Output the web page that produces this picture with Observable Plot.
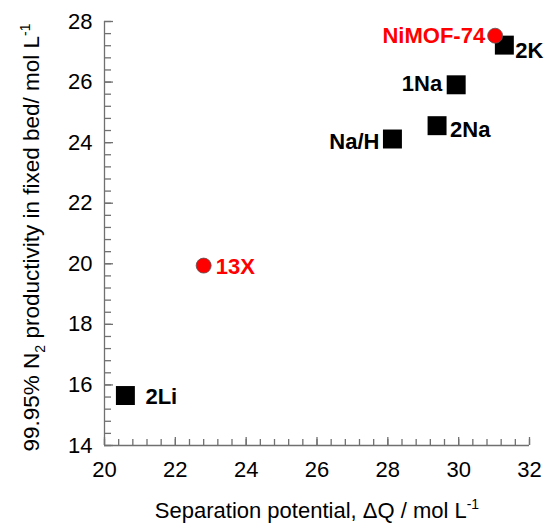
<!DOCTYPE html>
<html>
<head>
<meta charset="utf-8">
<script src="https://cdn.jsdelivr.net/npm/d3@7"></script>
<script src="https://cdn.jsdelivr.net/npm/@observablehq/plot@0.6"></script>
<style>
  html, body { margin: 0; padding: 0; background: #fff; }
  #chart svg { display: block; }
</style>
</head>
<body>
<div id="chart"></div>
<script>
// ---- data ----
const materials = ["NiMOF-74", "2K", "1Na", "2Na", "Na/H", "13X", "2Li"];
const separationPotential = [31.03, 31.29, 29.93, 29.39, 28.13, 22.80, 20.59];
const productivity = [27.53, 27.22, 25.91, 24.56, 24.12, 19.94, 15.65];
const isReference = [true, false, false, false, false, true, false];

const xTickValues = [20, 22, 24, 26, 28, 30, 32];
const yTickValues = [14, 16, 18, 20, 22, 24, 26, 28];

const xTitle = "Separation potential, ΔQ / mol L";
const yTitle = "99.95% N₂ productivity in fixed bed/ mol L";

// ---- build ----
const W = 545, H = 532;
const mL = 104, mR = 16, mT = 21, mB = 87;
const frameW = W - mL - mR, frameH = H - mT - mB;
const axisGrey = "#707070";
const red = "#ff0000";
const idx = d3.range(materials.length);
const squares = idx.filter(i => !isReference[i]);
const circles = idx.filter(i => isReference[i]);
const X = i => separationPotential[i];
const Y = i => productivity[i];

const xMinor = d3.range(0, 31).map(k => 20 + k * 0.4);
const yMinor = d3.range(0, 36).map(k => 14 + k * 0.4);

// label placement (style only)
const labelStyle = {
  "NiMOF-74": {anchor: "end", dx: -10, dy: 0, color: red},
  "2K": {anchor: "start", dx: 11, dy: 6, color: "#000"},
  "1Na": {anchor: "end", dx: -14, dy: -1, color: "#000"},
  "2Na": {anchor: "start", dx: 13, dy: 4, color: "#000"},
  "Na/H": {anchor: "end", dx: -13, dy: 3, color: "#000"},
  "13X": {anchor: "start", dx: 12, dy: 1, color: red},
  "2Li": {anchor: "start", dx: 20, dy: 1, color: "#000"}
};

const labelMarks = idx.map(i => {
  const s = labelStyle[materials[i]];
  return Plot.text([i], {
    x: X, y: Y, text: j => materials[j],
    textAnchor: s.anchor, dx: s.dx, dy: s.dy,
    fill: s.color, fontWeight: "bold", fontSize: 22
  });
});

// inward ticks (pixel lengths)
const inX = (ticks, len) => Plot.ruleX(ticks, {x: d => d, y1: 14, y2: 14, insetTop: -len, stroke: axisGrey, strokeWidth: 1.3});
const inY = (ticks, len) => Plot.tickY(ticks, {y: d => d, insetRight: frameW - len, stroke: axisGrey, strokeWidth: 1.3});

const plot = Plot.plot({
  width: W,
  height: H,
  marginLeft: mL,
  marginRight: mR,
  marginTop: mT,
  marginBottom: mB,
  style: {fontFamily: "Arial, 'Liberation Sans', sans-serif", fontSize: "22px", color: "#000", background: "#fff", overflow: "visible"},
  x: {domain: [20, 32]},
  y: {domain: [14, 28]},
  marks: [
    inX(xMinor, 6),
    inX(xTickValues, 8),
    Plot.axisX(xTickValues, {tickSize: 0, tickPadding: 16, fill: "#000", fontSize: 22, label: null}),
    inY(yMinor, 7),
    inY(yTickValues, 9),
    Plot.axisY(yTickValues, {tickSize: 0, tickPadding: 12, fill: "#000", fontSize: 22, label: null}),
    Plot.ruleX([20], {stroke: axisGrey, strokeWidth: 1.3}),
    Plot.ruleY([14], {stroke: axisGrey, strokeWidth: 1.3}),
    Plot.dot(squares, {x: X, y: Y, symbol: "square", r: 10.7, fill: "#000"}),
    Plot.dot(circles, {x: X, y: Y, r: 7.5, fill: red, stroke: "#555", strokeWidth: 0.8}),
    ...labelMarks,
    Plot.text([xTitle], {frameAnchor: "bottom", textAnchor: "middle", dy: 72, fontSize: 22, fill: "#000", text: d => d}),
    Plot.text([yTitle], {frameAnchor: "left", textAnchor: "middle", dx: -73, dy: 4, rotate: -90, fontSize: 22.5, fill: "#000", text: d => d})
  ]
});

document.getElementById("chart").appendChild(plot);

// superscripts / subscripts in axis titles
const svg = d3.select(plot);
svg.selectAll("text").each(function() {
  const t = d3.select(this);
  const content = this.textContent;
  if (content === xTitle) {
    t.append("tspan").attr("dy", "-9").attr("font-size", 14).text("-1");
  } else if (content === yTitle) {
    t.text(null);
    t.append("tspan").text("99.95% N");
    t.append("tspan").attr("dy", "6").attr("font-size", 14).text("2");
    t.append("tspan").attr("dy", "-6").text(" productivity in fixed bed/ mol L");
    t.append("tspan").attr("dy", "-9").attr("font-size", 14).text("-1");
  }
});
</script>
</body>
</html>
